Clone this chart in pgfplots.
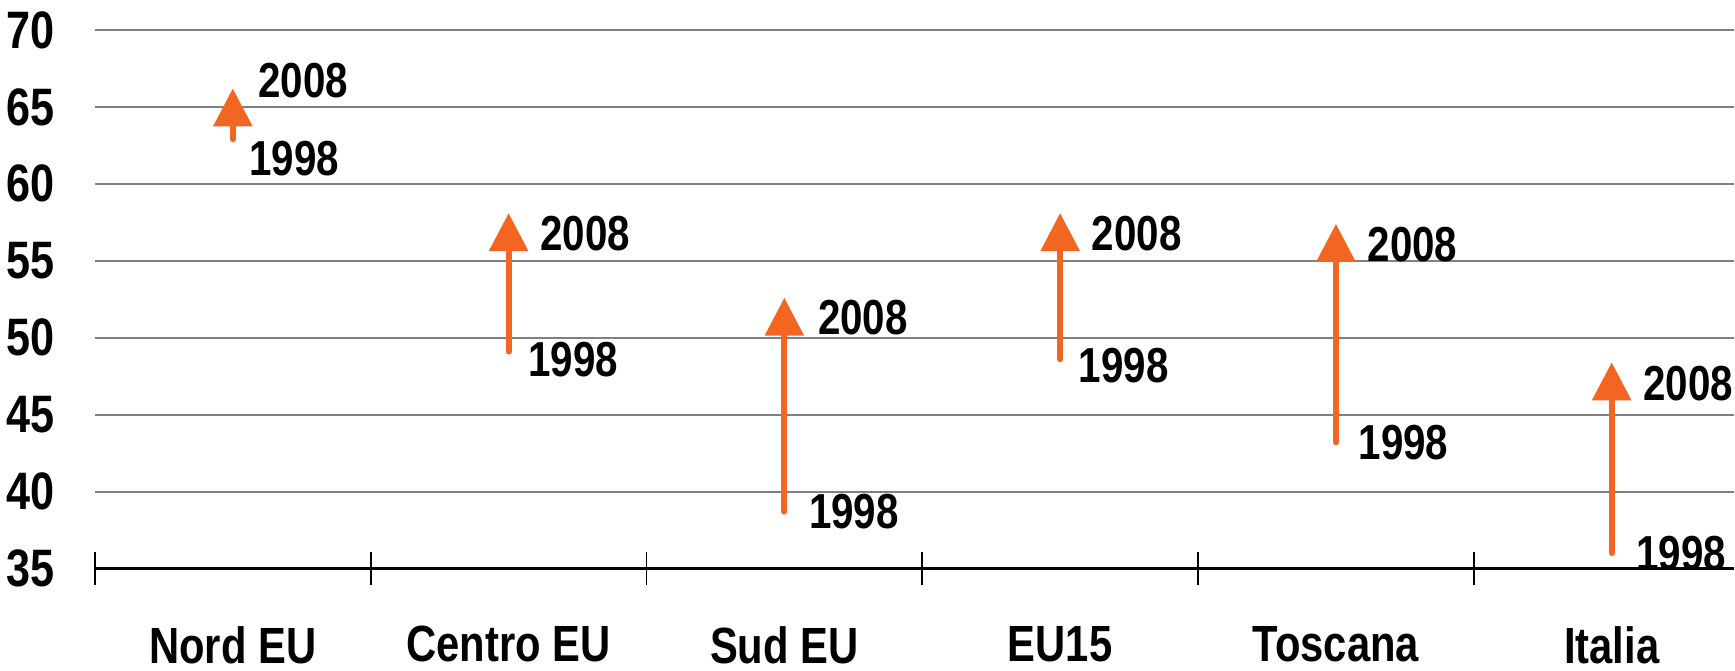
\documentclass[border=0pt]{standalone}
\usepackage{fontspec}
\setmainfont{Liberation Sans}[FakeStretch=0.82]
\usepackage{pgfplots}
\pgfplotsset{compat=1.18}
\usepackage{pgfplotstable}
\usetikzlibrary{arrows.meta}
\definecolor{arrorange}{RGB}{242,102,34}

% x = category, y98 = 1998 value, y08 = 2008 value
\pgfplotstableread{
x y98 y08
0 62.9 66.2
1 49.1 58.1
2 38.7 52.6
3 48.6 58.1
4 43.2 57.4
5 36.0 48.4
}\data

\begin{document}
\begin{tikzpicture}[lab/.style={font=\bfseries\fontsize{14}{16}\selectfont, inner sep=0pt, anchor=north west}]
\begin{axis}[
  scale only axis,
  width=164mm, height=53.9mm,
  xmin=-0.5, xmax=5.442,
  ymin=35, ymax=70,
  ytick={35,40,...,70},
  xtick={0,...,5},
  xticklabels={Nord EU, Centro EU, Sud EU, EU15, Toscana, Italia},
  minor xtick={-0.5,0.5,...,5.5},
  axis x line*=bottom,
  axis y line*=left,
  y axis line style={draw=none},
  x axis line style={black, line width=0.8pt},
  tick align=center,
  major tick length=0pt,
  minor tick length=3.3mm,
  minor x tick style={black, line width=0.5pt},
  ymajorgrids=true,
  grid style={gray, line width=0.55pt},
  tick label style={inner sep=0pt},
  /pgf/number format/assume math mode=true,
  xticklabel style={font=\bfseries\fontsize{14.5}{16}\selectfont, anchor=north, yshift=-5.7mm},
  yticklabel style={font=\bfseries\fontsize{15}{17}\selectfont, anchor=east, xshift=-4mm},
]
\addplot[arrorange, line width=0.6mm, line cap=round,
  -{Triangle[width=3.8mm, length=3.8mm]},
  quiver={u=0, v=\thisrow{y08}-\thisrow{y98}}]
  table[x=x, y=y98] {\data};

\node[lab, xshift=2.5mm, yshift=2.6mm]  at (axis cs:0,66.2) {2008};
\node[lab, xshift=3.1mm, yshift=-0.2mm] at (axis cs:1,58.1) {2008};
\node[lab, xshift=3.3mm, yshift=-0.2mm] at (axis cs:2,52.6) {2008};
\node[lab, xshift=3.1mm, yshift=-0.2mm] at (axis cs:3,58.1) {2008};
\node[lab, xshift=3.1mm, yshift=-0.3mm] at (axis cs:4,57.4) {2008};
\node[lab, xshift=3.1mm, yshift=-0.3mm] at (axis cs:5,48.4) {2008};

\node[lab, xshift=1.6mm, yshift=-0.1mm] at (axis cs:0,62.9) {1998};
\node[lab, xshift=1.9mm, yshift=1.0mm]  at (axis cs:1,49.1) {1998};
\node[lab, xshift=2.4mm, yshift=1.8mm]  at (axis cs:2,38.7) {1998};
\node[lab, xshift=1.8mm, yshift=1.2mm]  at (axis cs:3,48.6) {1998};
\node[lab, xshift=2.2mm, yshift=1.8mm]  at (axis cs:4,43.2) {1998};
\node[lab, xshift=2.4mm, yshift=1.8mm]  at (axis cs:5,36.0) {1998};

\coordinate (BL) at (rel axis cs:0,0);
\coordinate (TR) at (rel axis cs:1,1);
\end{axis}
\path ([shift={(-9.5mm,-10.2mm)}]BL) rectangle ([shift={(0,3.0mm)}]TR);
\end{tikzpicture}
\end{document}
